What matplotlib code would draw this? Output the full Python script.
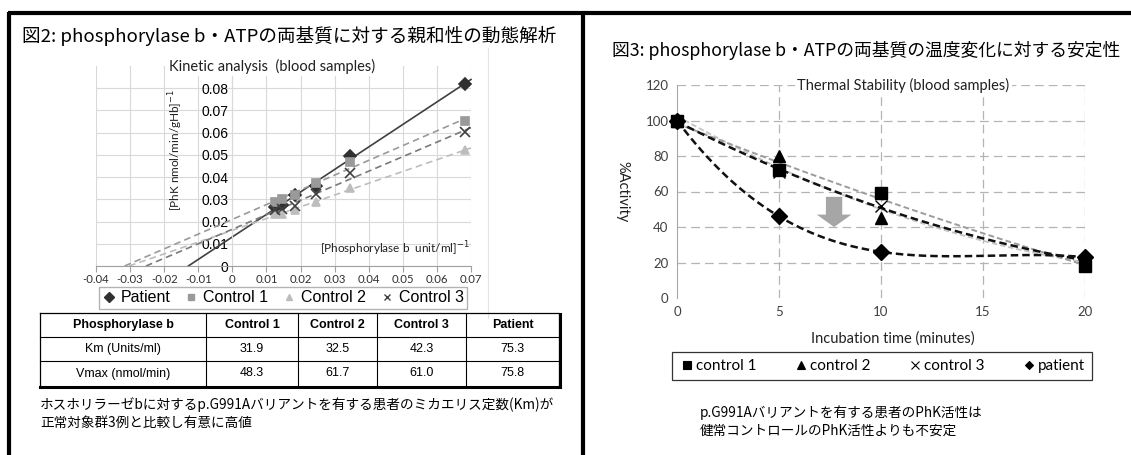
import numpy as np
import matplotlib
matplotlib.use('Agg')
import matplotlib.pyplot as plt
from matplotlib.lines import Line2D

plt.rcParams['font.family'] = ['Liberation Sans', 'Noto Sans CJK JP', 'DejaVu Sans']
JP = ['Noto Sans CJK JP', 'DejaVu Sans']
CAL = ['Lato', 'DejaVu Sans']

# --- fig 2: Lineweaver-Burk data (1/[S], 1/v)
inv_s = [0.0125, 0.0147, 0.0185, 0.0244, 0.0345, 0.0683]
patient_inv_v = [0.0265, 0.0275, 0.0320, 0.0360, 0.0495, 0.0820]
ctrl1_inv_v = [0.0290, 0.0300, 0.0320, 0.0375, 0.0470, 0.0652]
ctrl2_inv_v = [0.0235, 0.0232, 0.0250, 0.0290, 0.0352, 0.0520]
ctrl3_inv_v = [0.0250, 0.0255, 0.0270, 0.0325, 0.0420, 0.0602]

table_cols = ['Phosphorylase b', 'Control 1', 'Control 2', 'Control 3', 'Patient']
km_vals = ['31.9', '32.5', '42.3', '75.3']
vmax_vals = ['48.3', '61.7', '61.0', '75.8']

# --- fig 3: thermal stability
minutes = [0, 5, 10, 20]
ctrl1_act = [100, 72, 59, 18]
ctrl2_act = [100, 80, 45, 21]
ctrl3_act = [100, 71, 52, 21]
patient_act = [100, 46, 26, 23]

W, H = 1131, 455
fig = plt.figure(figsize=(W / 100, H / 100), dpi=100)
fig.patch.set_facecolor('white')

def frac(x0, y0, x1, y1):
    # pixel box -> figure fraction rect
    return [x0 / W, 1 - y1 / H, (x1 - x0) / W, (y1 - y0) / H]

# overlay in pixel coords
ov = fig.add_axes([0, 0, 1, 1])
ov.set_xlim(0, W)
ov.set_ylim(H, 0)
ov.axis('off')

# frame
ov.plot([8, W], [13, 13], color='black', lw=3, solid_capstyle='butt')
ov.plot([9, 9], [12, H], color='black', lw=3, solid_capstyle='butt')
ov.plot([583, 583], [12, H], color='black', lw=3, solid_capstyle='butt')
ov.plot([488, 488], [48, 318], color='#e4e4e4', lw=0.8)

ov.text(22, 36, '図2: phosphorylase b・ATPの両基質に対する親和性の動態解析', fontsize=13.4,
        family=JP, va='center', ha='left')
ov.text(612, 50, '図3: phosphorylase b・ATPの両基質の温度変化に対する安定性', fontsize=12.8,
        family=JP, va='center', ha='left')

# ---------------- left chart
ax = fig.add_axes(frac(96, 66, 471, 266))
ax.set_xlim(-0.04, 0.07)
ax.set_ylim(0, 0.09)
ax.set_xticks(np.arange(-0.04, 0.0701, 0.01))
ax.set_yticks(np.arange(0, 0.0801, 0.01))
ax.set_xticklabels(['-0.04', '-0.03', '-0.02', '-0.01', '0', '0.01', '0.02', '0.03',
                    '0.04', '0.05', '0.06', '0.07'], family=CAL, fontsize=8.2, color='#303030')
ax.set_yticklabels(['0', '0.01', '0.02', '0.03', '0.04', '0.05', '0.06', '0.07', '0.08'],
                   family=CAL, fontsize=8.2, color='#303030')
ax.grid(True, color='#d9d9d9', lw=0.8)
ax.set_axisbelow(True)
for s in ['top', 'right']:
    ax.spines[s].set_visible(False)
ax.spines['left'].set_position(('data', 0))
ax.spines['left'].set_color('#d9d9d9')
ax.spines['bottom'].set_color('#a0a0a0')
ax.tick_params(axis='y', length=0, pad=3)
ax.tick_params(axis='x', length=4, color='#a0a0a0', pad=2)

series = [
    ('Patient', patient_inv_v, 'D', '#303030', '-', '#404040', 6),
    ('Control 1', ctrl1_inv_v, 's', '#9a9a9a', '--', '#9a9a9a', 6),
    ('Control 2', ctrl2_inv_v, '^', '#bdbdbd', '--', '#bdbdbd', 6),
    ('Control 3', ctrl3_inv_v, 'x', '#404040', '--', '#7a7a7a', 7),
]
handles = []
for name, yv, mk, mc, ls, lc, ms in series:
    m, b = np.polyfit(inv_s, yv, 1)
    x0 = -b / m
    ax.plot([x0, 0.07], [0, m * 0.07 + b], ls=ls, color=lc, lw=1.2, clip_on=False,
            dashes=(4, 2.5) if ls == '--' else (None, None))
    ax.plot(inv_s, yv, ls='none', marker=mk, color=mc, ms=ms, mew=1.2, zorder=3)
    handles.append(Line2D([], [], ls='none', marker=mk, color=mc, ms=5, mew=1.0))

ax.text(0.47, 1.0, 'Kinetic analysis  (blood samples)', transform=ax.transAxes, ha='center',
        va='center', family=CAL, fontsize=10.5, color='#202020',
        bbox=dict(fc='white', ec='none', pad=2))
ax.text(-0.0167, 0.052, '[PhK nmol/min/gHb]$^{-1}$', rotation=90, ha='center', va='center',
        family=CAL, fontsize=8.5, color='#202020')
ax.text(0.0695, 0.0035, '[Phosphorylase b  unit/ml]$^{-1}$', ha='right', va='bottom',
        family=CAL, fontsize=8.5, color='#202020')

ax.legend(handles, [s[0] for s in series], loc='center', bbox_to_anchor=(283, 298),
          bbox_transform=ov.transData, ncol=4, frameon=True, fancybox=False,
          edgecolor='#a0a0a0', handletextpad=0.35, columnspacing=0.9, handlelength=0.8,
          borderpad=0.2, prop={'family': 'Liberation Sans', 'size': 11.5})

# table
cx = [40, 206, 298, 377, 466, 559]
ry = [313, 337, 361, 386]
for y in ry[1:-1]:
    ov.plot([cx[0], cx[-1]], [y, y], color='black', lw=0.8)
for x in cx[1:-1]:
    ov.plot([x, x], [ry[0], ry[-1]], color='black', lw=0.8)
ov.plot([cx[0], cx[-1], cx[-1]], [ry[0], ry[0], ry[-1]], color='black', lw=0.9)
ov.plot([cx[0], cx[0]], [ry[0], ry[-1]], color='black', lw=0.9)
ov.plot([cx[0], cx[-1] + 1], [ry[-1] + 0.5, ry[-1] + 0.5], color='black', lw=2.2)
ov.plot([cx[-1] + 0.5, cx[-1] + 0.5], [ry[0] + 1, ry[-1]], color='black', lw=2.2)
rows = [table_cols, ['Km (Units/ml)'] + km_vals, ['Vmax (nmol/min)'] + vmax_vals]
for i, row in enumerate(rows):
    yc = (ry[i] + ry[i + 1]) / 2
    for j, t in enumerate(row):
        ov.text((cx[j] + cx[j + 1]) / 2, yc, t, ha='center', va='center', fontsize=9,
                family=['Liberation Sans Narrow', 'Liberation Sans'],
                fontweight='bold' if i == 0 else 'normal')

ov.text(40, 405, 'ホスホリラーゼbに対するp.G991Aバリアントを有する患者のミカエリス定数(Km)が',
        fontsize=9.8, family=JP, va='center', ha='left')
ov.text(40, 423, '正常対象群3例と比較し有意に高値', fontsize=9.8, family=JP, va='center', ha='left')

# ---------------- right chart
ax2 = fig.add_axes(frac(677, 85, 1085, 298))
ax2.set_xlim(0, 20)
ax2.set_ylim(0, 120)
ax2.set_xticks([0, 5, 10, 15, 20])
ax2.set_yticks([0, 20, 40, 60, 80, 100, 120])
ax2.tick_params(length=0, labelsize=9.5, labelcolor='#404040', pad=6)
for lab in ax2.get_xticklabels() + ax2.get_yticklabels():
    lab.set_family(CAL)
for s in ['top', 'right', 'bottom']:
    ax2.spines[s].set_visible(False)
ax2.spines['left'].set_color('#a6a6a6')
for y in [20, 40, 60, 80, 100, 120]:
    ax2.axhline(y, color='#b4b4b4', lw=0.9, dashes=(7, 4), zorder=0)
for x in [5, 10, 15, 20]:
    ax2.axvline(x, color='#b4b4b4', lw=0.9, dashes=(7, 4), zorder=0)

xs = np.linspace(0, 20, 200)
trend = [
    (ctrl2_act, 2, '#c4c4c4', 1.3),
    (ctrl1_act, 2, '#9c9c9c', 1.4),
    (ctrl3_act, 2, '#111111', 1.8),
    (patient_act, 3, '#111111', 1.8),
]
for yv, deg, col, lw in trend:
    c = np.polyfit(minutes, yv, deg)
    ax2.plot(xs, np.polyval(c, xs), color=col, lw=lw, dashes=(3, 1.6), zorder=2)

mk_right = [
    ('control 1', ctrl1_act, 's', 8),
    ('control 2', ctrl2_act, '^', 9),
    ('control 3', ctrl3_act, 'x', 9),
    ('patient', patient_act, 'D', 8),
]
h2 = []
for name, yv, mk, ms in mk_right:
    ax2.plot(minutes, yv, ls='none', marker=mk, color='black', ms=ms, mew=1.0, zorder=3,
             clip_on=False)
    h2.append(Line2D([], [], ls='none', marker=mk, color='black',
                     ms=6 if mk != 'D' else 4.5, mew=0.8))

ax2.arrow(7.7, 57, 0, -17, width=0.8, head_width=1.7, head_length=7,
          length_includes_head=True, color='#a6a6a6', ec='none', zorder=2)

ax2.text(11.1, 120, 'Thermal Stability (blood samples)', ha='center', va='center',
         family=CAL, fontsize=10.5, color='#202020', bbox=dict(fc='white', ec='none', pad=2))
ax2.text(-2.7, 60, '%Activity', rotation=270, ha='center', va='center', family=CAL,
         fontsize=10.5, color='#202020')
ax2.text(10.6, -23, 'Incubation time (minutes)', ha='center', va='center', family=CAL,
         fontsize=10.5, color='#202020')

ax2.legend(h2, [m[0] for m in mk_right], loc='center', bbox_to_anchor=(882, 366),
           bbox_transform=ov.transData, ncol=4, frameon=True, fancybox=False,
           edgecolor='black', handletextpad=0.1, columnspacing=2.4, handlelength=1.0,
           borderpad=0.45, borderaxespad=0, prop={'family': CAL, 'size': 11})
ax2.get_legend().get_frame().set_linewidth(0.9)

ov.text(700, 413, 'p.G991Aバリアントを有する患者のPhK活性は', fontsize=9.8, family=JP,
        va='center', ha='left')
ov.text(700, 431, '健常コントロールのPhK活性よりも不安定', fontsize=9.8, family=JP,
        va='center', ha='left')

fig.savefig('out.png', dpi=100)
